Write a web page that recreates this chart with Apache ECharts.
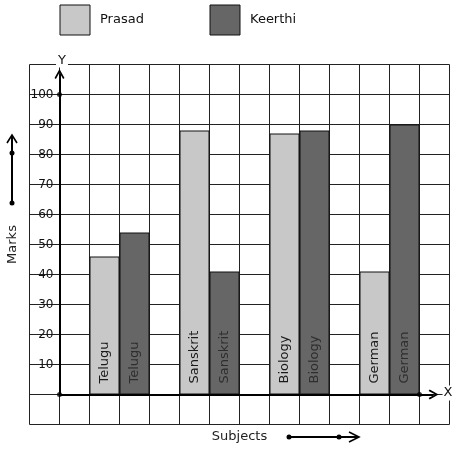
<!DOCTYPE html>
<html>
<head>
<meta charset="utf-8">
<script src="https://cdn.jsdelivr.net/npm/echarts@6/dist/echarts.min.js"></script>
<style>
html, body { margin: 0; padding: 0; background: #fff; }
#chart { width: 457px; height: 450px; }
</style>
</head>
<body>
<div id="chart"></div>
<script>
const subjects = ['Telugu', 'Sanskrit', 'Biology', 'German']
const prasadMarks = [46, 88, 87, 41]
const keerthiMarks = [54, 41, 88, 90]
const yTicks = [10, 20, 30, 40, 50, 60, 70, 80, 90, 100]

const font = 'DejaVu Sans, sans-serif'
// every subject uses 3 grid columns: Prasad bar, Keerthi bar, gap
const colX = (i, k) => i * 3 + 1.5 + k
const xEnd = subjects.length * 3
const chevron = 'path://M5,0 L10,8 L8.6,9 L5,3 L1.4,9 L0,8 Z'

const barLabel = color => ({
  show: true,
  position: 'insideBottom',
  rotate: 90,
  align: 'left',
  verticalAlign: 'middle',
  distance: 11,
  fontSize: 13,
  fontFamily: font,
  color,
  formatter: p => subjects[p.dataIndex]
})

const legendBase = {
  top: 4.5,
  padding: 0,
  itemWidth: 30,
  itemHeight: 30,
  icon: 'rect',
  itemStyle: { borderColor: '#111', borderWidth: 1 },
  textStyle: { fontSize: 13, fontFamily: font, color: '#111', padding: [0, 0, 0, 5] }
}

const chart = echarts.init(document.getElementById('chart'))

chart.setOption({
  animation: false,
  legend: [
    { ...legendBase, data: ['Prasad'], left: 59.5 },
    { ...legendBase, data: ['Keerthi'], left: 209.5 }
  ],
  grid: { left: 29.5, top: 64.5, width: 420, height: 360, outerBoundsMode: 'none' },
  xAxis: {
    type: 'value',
    min: -1,
    max: 13,
    interval: 1,
    name: 'Subjects',
    nameLocation: 'middle',
    nameGap: 6,
    nameTextStyle: { fontSize: 13, fontFamily: font, color: '#222' },
    axisLine: { show: false, onZero: false },
    axisTick: { show: false },
    axisLabel: { show: false },
    splitLine: { show: true, lineStyle: { color: '#222', width: 1 } }
  },
  yAxis: {
    type: 'value',
    min: -10,
    max: 110,
    interval: 10,
    // move the axis from the grid edge to the x = 0 column line
    offset: -30,
    name: 'Marks',
    nameLocation: 'middle',
    nameGap: 40,
    nameTextStyle: { fontSize: 13, fontFamily: font, color: '#222' },
    axisLine: { show: false, onZero: false },
    axisTick: { show: false },
    axisLabel: {
      margin: 6,
      fontSize: 12,
      fontFamily: font,
      color: '#111',
      formatter: v => (yTicks.includes(v) ? String(v) : '')
    },
    splitLine: { show: true, lineStyle: { color: '#222', width: 1 } }
  },
  series: [
    {
      name: 'Prasad',
      type: 'bar',
      barWidth: 30,
      data: prasadMarks.map((v, i) => [colX(i, 0), v]),
      itemStyle: { color: '#c8c8c8', borderColor: '#111', borderWidth: 1 },
      label: barLabel('#1a1a1a')
    },
    {
      name: 'Keerthi',
      type: 'bar',
      barWidth: 30,
      barGap: '-100%',
      data: keerthiMarks.map((v, i) => [colX(i, 1), v]),
      itemStyle: { color: '#666666', borderColor: '#111', borderWidth: 1 },
      label: barLabel('#2e2e2e')
    },
    {
      // axis lines with arrows and dots
      name: 'axes',
      type: 'scatter',
      silent: true,
      symbolSize: 5,
      itemStyle: { color: '#000' },
      data: [[0, 0], [0, 100], [xEnd, 0]],
      z: 5,
      markLine: {
        silent: true,
        symbol: ['none', chevron],
        symbolSize: 10,
        label: { show: false },
        lineStyle: { color: '#000', width: 2, type: 'solid' },
        data: [
          [{ coord: [0, 0] }, { coord: [0, 106.8] }],
          [{ coord: [0, 0] }, { coord: [12.47, 0] }]
        ]
      }
    }
  ],
  graphic: [
    { type: 'text', z: 100, style: { text: 'Y', x: 62, y: 61, align: 'center', verticalAlign: 'middle', font: '13px ' + font, fill: '#111', backgroundColor: '#fff', padding: [0, 2] } },
    { type: 'text', z: 100, style: { text: 'X', x: 448, y: 393, align: 'center', verticalAlign: 'middle', font: '13px ' + font, fill: '#111', backgroundColor: '#fff', padding: [1, 1] } },
    // arrow next to "Marks"
    { type: 'line', shape: { x1: 12, y1: 203, x2: 12, y2: 136 }, style: { stroke: '#000', lineWidth: 2 } },
    { type: 'circle', shape: { cx: 12, cy: 203, r: 2.5 }, style: { fill: '#000' } },
    { type: 'circle', shape: { cx: 12, cy: 153, r: 2.5 }, style: { fill: '#000' } },
    { type: 'polyline', shape: { points: [[7, 143], [12, 135], [17, 143]] }, style: { stroke: '#000', lineWidth: 1.6, fill: null } },
    // arrow next to "Subjects"
    { type: 'line', shape: { x1: 289, y1: 437, x2: 358, y2: 437 }, style: { stroke: '#000', lineWidth: 2 } },
    { type: 'circle', shape: { cx: 289, cy: 437, r: 2.5 }, style: { fill: '#000' } },
    { type: 'circle', shape: { cx: 339, cy: 437, r: 2.5 }, style: { fill: '#000' } },
    { type: 'polyline', shape: { points: [[349, 432], [359, 437], [349, 442]] }, style: { stroke: '#000', lineWidth: 1.6, fill: null } }
  ]
})
</script>
</body>
</html>
